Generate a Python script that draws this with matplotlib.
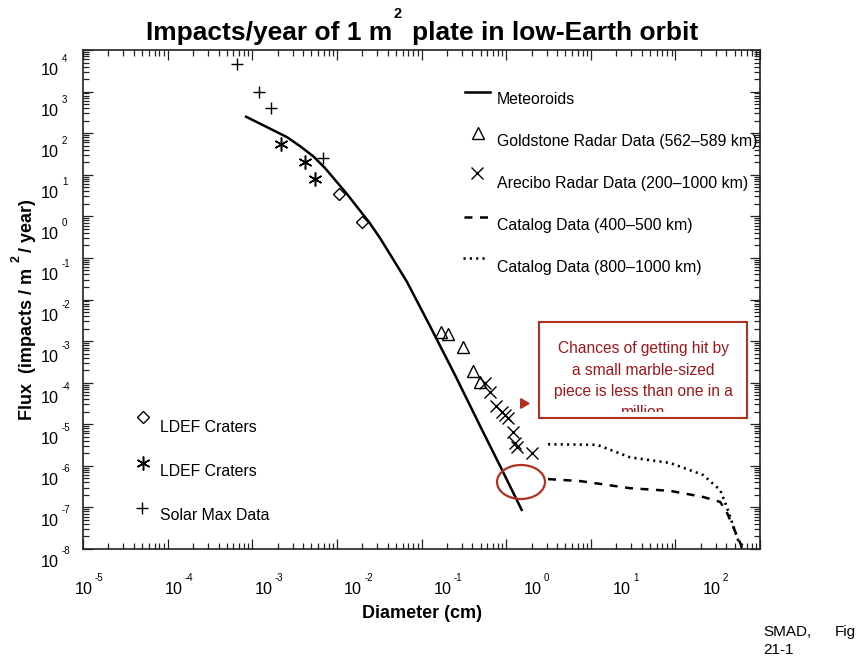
import matplotlib
matplotlib.use('Agg')
import matplotlib.pyplot as plt
from matplotlib.patches import Ellipse, Rectangle
from matplotlib.lines import Line2D
from matplotlib.ticker import LogLocator, NullFormatter

plt.rcParams['font.family'] = ['Liberation Sans', 'DejaVu Sans']

# ---------------- data (diameter in cm, flux in impacts / m^2 / year) -------------
meteoroid_d = [8.2e-4, 1.42e-3, 2.58e-3, 3.67e-3, 5.24e-3, 7.26e-3, 9.8e-3, 0.0132,
               0.0178, 0.024, 0.0324, 0.0461, 0.0676, 0.126, 0.249, 0.493, 0.849, 1.55]
meteoroid_f = [256, 147, 80, 48.7, 28.0, 14.4, 7.0, 3.42,
               1.57, 0.726, 0.299, 0.0935, 0.0262, 2.30e-3, 1.52e-4, 9.06e-6, 9.9e-7, 8.2e-8]

solar_d = [6.6e-4, 1.2e-3, 1.66e-3, 6.9e-3]
solar_f = [4.6e3, 970, 400, 25]

ldef_star_d = [2.19e-3, 4.2e-3, 5.5e-3]
ldef_star_f = [54, 20, 7.8]

ldef_diam_d = [0.0106, 0.0199]
ldef_diam_f = [3.4, 0.72]

goldstone_d = [0.171, 0.206, 0.31, 0.407, 0.493]
goldstone_f = [1.64e-3, 1.48e-3, 7.2e-4, 1.9e-4, 1.03e-4]

arecibo_d = [0.565, 0.647, 0.762, 0.897, 0.973, 1.06, 1.21, 1.28, 1.35, 2.03]
arecibo_f = [9.8e-5, 5.9e-5, 2.7e-5, 1.96e-5, 1.66e-5, 1.41e-5, 6.5e-6, 3.5e-6, 2.8e-6, 2.0e-6]

cat_low_d = [3.13, 7.5, 29.2, 87, 214, 339, 409, 482, 583, 616]
cat_low_f = [4.8e-7, 4.3e-7, 2.9e-7, 2.5e-7, 1.78e-7, 1.35e-7, 7.3e-8, 3.4e-8, 1.4e-8, 1e-8]

cat_high_d = [3.13, 11.9, 29.2, 87, 214, 339, 409, 553, 668]
cat_high_f = [3.3e-6, 3.2e-6, 1.6e-6, 1.17e-6, 6.0e-7, 2.6e-7, 9.7e-8, 1.6e-8, 1e-8]

x_exponents = ['-5', '-4', '-3', '-2', '-1', '0', '1', '2']
y_exponents = ['4', '3', '2', '1', '0', '-1', '-2', '-3', '-4', '-5', '-6', '-7', '-8']

legend_right = ['Meteoroids', 'Goldstone Radar Data (562\u2013589 km)',
                'Arecibo Radar Data (200\u20131000 km)', 'Catalog Data (400\u2013500 km)',
                'Catalog Data (800\u20131000 km)']
legend_left = ['LDEF Craters', 'LDEF Craters', 'Solar Max Data']
note_lines = ['Chances of getting hit by', 'a small marble-sized',
              'piece is less than one in a', 'million']

# ---------------- figure -------------
W, H = 860, 657
fig = plt.figure(figsize=(W / 100, H / 100), dpi=100)
fig.patch.set_facecolor('white')


def P(x, y):
    """pixel (from top-left) -> figure fraction"""
    return x / W, 1 - y / H


L, R, T, B = 83, 760, 50, 549
ax = fig.add_axes([L / W, 1 - B / H, (R - L) / W, (B - T) / H])
ax.set_xscale('log')
ax.set_yscale('log')
ax.set_xlim(1e-5, 1e3)
ax.set_ylim(1e-8, 1e4)
ax.tick_params(which='both', direction='in', top=True, right=True,
               labelbottom=False, labelleft=False, width=0.9, color='#222222')
ax.tick_params(which='major', length=7)
ax.tick_params(which='minor', length=4)
for s in ax.spines.values():
    s.set_linewidth(1.2)
    s.set_color('#222222')
ax.xaxis.set_major_locator(LogLocator(base=10, numticks=20))
ax.yaxis.set_major_locator(LogLocator(base=10, numticks=20))
ax.xaxis.set_minor_locator(LogLocator(base=10, subs=range(2, 10), numticks=20))
ax.yaxis.set_minor_locator(LogLocator(base=10, subs=range(2, 10), numticks=20))
ax.xaxis.set_minor_formatter(NullFormatter())
ax.yaxis.set_minor_formatter(NullFormatter())

k = 'black'
ax.plot(meteoroid_d, meteoroid_f, color=k, lw=1.8, solid_capstyle='butt',
        solid_joinstyle='round')
ax.plot(cat_low_d, cat_low_f, color=k, lw=1.8, dashes=(3.2, 3.0))
ax.plot(cat_high_d, cat_high_f, color=k, lw=1.9, dashes=(0.8, 1.6))
ax.plot(solar_d, solar_f, ls='none', marker='+', ms=9, mew=1.0, color=k)
ax.plot(ldef_star_d, ldef_star_f, ls='none', marker=(6, 2, 0), ms=10, mew=1.1, color=k)
ax.plot(ldef_diam_d, ldef_diam_f, ls='none', marker='D', ms=6, mfc='white', mec=k, mew=1.0)
ax.plot(goldstone_d, goldstone_f, ls='none', marker='^', ms=8, mfc='none', mec=k, mew=1.0)
ax.plot(arecibo_d, arecibo_f, ls='none', marker='x', ms=9, mew=1.0, color=k)

# ---------------- tick labels (overlay style) -------------
for i, e in enumerate(x_exponents):
    x0 = 75 + 89.7 * i
    fig.text(*P(x0, 594), '10', fontsize=11.7, ha='left', va='baseline')
    fig.text(*P(x0 + 20, 581), e, fontsize=7, ha='left', va='baseline')
for i, e in enumerate(y_exponents):
    yb = 75 + 41.0 * i
    fig.text(*P(41, yb), '10', fontsize=11.7, ha='left', va='baseline')
    fig.text(*P(62, yb - 13), e, fontsize=7, ha='left', va='baseline')

# ---------------- titles -------------
fig.text(*P(392, 40), 'Impacts/year of 1 m', fontsize=19, fontweight='bold',
         ha='right', va='baseline')
fig.text(*P(398, 18), '2', fontsize=10.5, fontweight='bold', ha='center', va='baseline')
fig.text(*P(412, 40), 'plate in low-Earth orbit', fontsize=19, fontweight='bold',
         ha='left', va='baseline')

fig.text(*P(422, 618), 'Diameter (cm)', fontsize=13, fontweight='bold',
         ha='center', va='baseline')

fig.text(*P(32, 420), 'Flux  (impacts / m', fontsize=13, fontweight='bold',
         rotation=90, rotation_mode='anchor', ha='left', va='baseline')
fig.text(*P(20, 262), '2', fontsize=9, fontweight='bold',
         rotation=90, rotation_mode='anchor', ha='left', va='baseline')
fig.text(*P(32, 252), '/ year)', fontsize=13, fontweight='bold',
         rotation=90, rotation_mode='anchor', ha='left', va='baseline')

fig.text(*P(763, 636), 'SMAD,', fontsize=11, ha='left', va='baseline')
fig.text(*P(835, 636), 'Fig', fontsize=11, ha='left', va='baseline')
fig.text(*P(763, 654), '21-1', fontsize=11, ha='left', va='baseline')

# ---------------- legends (drawn manually as in the figure) -------------
def fline(xs, ys, **kw):
    fx = [x / W for x in xs]
    fy = [1 - y / H for y in ys]
    fig.add_artist(Line2D(fx, fy, transform=fig.transFigure, **kw))

fline([465, 490], [92, 92], color=k, lw=1.8)
fline([478], [133], ls='none', marker='^', ms=8, mfc='none', mec=k, mew=1.0)
fline([477], [173], ls='none', marker='x', ms=9, mew=1.0, color=k)
fline([464, 491], [217, 217], color=k, lw=1.8, dashes=(3.2, 3.0))
fline([463, 488], [258, 258], color=k, lw=1.9, dashes=(0.8, 1.6))
for i, s in enumerate(legend_right):
    fig.text(*P(497, 100 + 41.8 * i), s, fontsize=11.4, ha='left', va='center')

fline([143], [417], ls='none', marker='D', ms=6, mfc='white', mec=k, mew=1.0)
fline([143], [463], ls='none', marker=(6, 2, 0), ms=10, mew=1.1, color=k)
fline([142], [508], ls='none', marker='+', ms=9, mew=1.0, color=k)
for i, s in enumerate(legend_left):
    fig.text(*P(160, 427 + 44.5 * i), s, fontsize=11.4, ha='left', va='center')

# ---------------- red annotation -------------
red = '#b2301e'
txt_red = '#a0161a'
fig.add_artist(Rectangle(P(539, 418), 208 / W, 96 / H, transform=fig.transFigure,
                         facecolor='white', edgecolor='none', zorder=5))
for i, s in enumerate(note_lines):
    fig.text(*P(643, 349 + 21.3 * i), s, fontsize=11.2, color=txt_red,
             ha='center', va='center', zorder=6)
fig.add_artist(Rectangle(P(540, 417), 206 / W, 5.5 / H, transform=fig.transFigure,
                         facecolor='white', edgecolor='none', zorder=7))
fig.add_artist(Rectangle(P(539, 418), 208 / W, 96 / H, transform=fig.transFigure,
                         facecolor='none', edgecolor=red, lw=1.5, zorder=8))
fig.add_artist(Ellipse(P(521, 482), 48 / W, 34 / H, transform=fig.transFigure,
                       facecolor='none', edgecolor=red, lw=1.6, zorder=8))
fline([523], [403], ls='none', marker=(3, 0, -90), ms=8, color=red, mec=red)

fig.savefig('out.png', dpi=100, facecolor='white')
